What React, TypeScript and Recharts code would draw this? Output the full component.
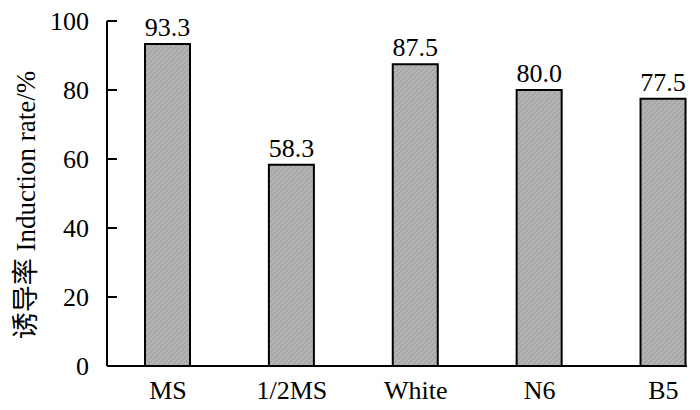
import React from 'react';
import { BarChart, Bar, XAxis, YAxis, LabelList } from 'recharts';

const categories = ['MS', '1/2MS', 'White', 'N6', 'B5'];
const rates = [93.3, 58.3, 87.5, 80.0, 77.5];
const yTicks = [0, 20, 40, 60, 80, 100];
const xPositions = [1, 2, 3, 4, 5];

const data = categories.map((name, i) => ({ name, idx: xPositions[i], rate: rates[i] }));

const SERIF = '"Liberation Serif", "Times New Roman", serif';
const CJK = '"Noto Sans CJK SC", sans-serif';
const FS = 26;
const Y_MARGIN = 18;

const YTick = (props: any) => {
  const { x, y, payload } = props;
  const ax = x + Y_MARGIN;
  return (
    <g>
      <line x1={ax} x2={ax + 10} y1={y} y2={y} stroke="#000" strokeWidth={2} />
      <text x={x} y={y} dy="0.35em" textAnchor="end" fontFamily={SERIF} fontSize={FS} fill="#000">
        {payload.value}
      </text>
    </g>
  );
};

const YLabel = () => (
  <text
    transform="translate(35,205) rotate(-90)"
    textAnchor="middle"
    fontSize={27}
    fontFamily={SERIF}
    fill="#000"
  >
    <tspan fontFamily={CJK}>诱导率</tspan>
    <tspan> Induction rate/%</tspan>
  </text>
);

export default function App() {
  return (
    <div style={{ background: '#fff', margin: '-8px 0 0 -8px', width: 700, height: 410 }}>
      <BarChart width={700} height={410} data={data} margin={{ top: 21, right: 13, bottom: 0, left: 0 }}>
        <defs>
          <pattern id="hatch" patternUnits="userSpaceOnUse" width="5" height="5">
            <rect width="5" height="5" fill="#a7a7a7" />
            <path d="M-1,1 L1,-1 M0,5 L5,0 M4,6 L6,4" stroke="#b9b9b9" strokeWidth="1.3" />
          </pattern>
        </defs>
        <XAxis
          type="number"
          dataKey="idx"
          domain={[0.508, 5.19]}
          ticks={xPositions}
          tickFormatter={(v: number) => categories[v - 1]}
          allowDataOverflow
          height={44}
          tickLine={false}
          tickSize={0}
          tickMargin={15}
          axisLine={{ stroke: '#000', strokeWidth: 2 }}
          tick={{ fill: '#000', fontFamily: SERIF, fontSize: FS }}
          interval={0}
        />
        <YAxis
          type="number"
          domain={[0, 100]}
          ticks={yTicks}
          width={107}
          tickLine={false}
          tickSize={0}
          tickMargin={Y_MARGIN}
          axisLine={{ stroke: '#000', strokeWidth: 2 }}
          tick={<YTick />}
          interval={0}
          label={<YLabel />}
        />
        <Bar dataKey="rate" barSize={45} fill="url(#hatch)" stroke="#000" strokeWidth={2} isAnimationActive={false}>
          <LabelList
            dataKey="rate"
            position="top"
            offset={8}
            formatter={(v: any) => Number(v).toFixed(1)}
            fill="#000"
            fontFamily={SERIF}
            fontSize={FS}
          />
        </Bar>
      </BarChart>
    </div>
  );
}
